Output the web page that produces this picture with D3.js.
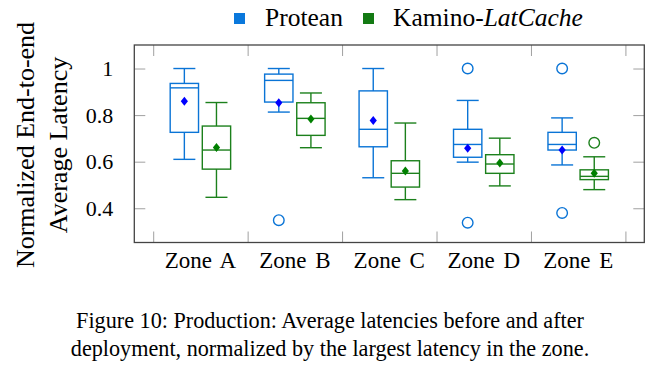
<!DOCTYPE html>
<html>
<head>
<meta charset="utf-8">
<script src="https://cdn.jsdelivr.net/npm/d3@7"></script>
<style>
  body { margin: 0; background: #fff; }
  svg { display: block; font-family: "Liberation Serif", "Times New Roman", serif; }
</style>
</head>
<body>
<svg id="chart" width="660" height="372"></svg>
<script>
const zones = ["Zone A", "Zone B", "Zone C", "Zone D", "Zone E"];
const seriesNames = ["Protean", "Kamino-"];
// [lower whisker, q1, median, q3, upper whisker]
const proteanBoxes = [
  [0.61, 0.726, 0.917, 0.936, 1.0],
  [0.813, 0.856, 0.949, 0.976, 1.0],
  [0.531, 0.664, 0.739, 0.904, 1.0],
  [0.598, 0.619, 0.674, 0.739, 0.863],
  [0.586, 0.65, 0.674, 0.726, 0.788]
];
const proteanMeans = [0.86, 0.853, 0.777, 0.658, 0.65];
const proteanOutliers = [[], [0.349], [], [1.0, 0.338], [1.0, 0.38]];
const kaminoBoxes = [
  [0.447, 0.568, 0.65, 0.753, 0.854],
  [0.66, 0.713, 0.786, 0.853, 0.895],
  [0.437, 0.491, 0.55, 0.604, 0.766],
  [0.496, 0.55, 0.59, 0.63, 0.701],
  [0.48, 0.523, 0.537, 0.565, 0.621]
];
const kaminoMeans = [0.661, 0.783, 0.56, 0.594, 0.55];
const kaminoOutliers = [[], [], [], [], [0.681]];
const yTicks = [0.4, 0.6, 0.8, 1];
const xTicks = [0.5, 1.5, 2.5, 3.5, 4.5, 5.5];

const svg = d3.select("#chart");
const plotL = 134.3, plotR = 644.3, plotT = 45, plotB = 242.5;

const x = d3.scaleLinear().domain([0.3, 5.7]).range([plotL, plotR]);
const y = d3.scaleLinear().domain([0.253, 1.101]).range([plotB, plotT]);

const blue = "#0a74d6", green = "#1c801c";
const series = [
  { boxes: proteanBoxes, means: proteanMeans, outliers: proteanOutliers, color: blue, mean: "#0000ff", off: -0.17 },
  { boxes: kaminoBoxes, means: kaminoMeans, outliers: kaminoOutliers, color: green, mean: "#008000", off: 0.17 }
];

// ticks (inward, on all four sides)
const tickLen = 11;
const tickColor = "#a0a0a0";
svg.append("g").attr("transform", `translate(0,${plotB})`)
  .call(d3.axisBottom(x).tickValues(xTicks).tickSizeInner(-tickLen).tickSizeOuter(0).tickFormat(""))
  .call(g => g.select(".domain").remove())
  .call(g => g.selectAll("line").attr("stroke", tickColor));
svg.append("g").attr("transform", `translate(0,${plotT})`)
  .call(d3.axisTop(x).tickValues(xTicks).tickSizeInner(-tickLen).tickSizeOuter(0).tickFormat(""))
  .call(g => g.select(".domain").remove())
  .call(g => g.selectAll("line").attr("stroke", tickColor));
svg.append("g").attr("transform", `translate(${plotL},0)`)
  .call(d3.axisLeft(y).tickValues(yTicks).tickSizeInner(-tickLen).tickSizeOuter(0).tickPadding(10 + tickLen).tickFormat(d3.format("~g")))
  .call(g => g.select(".domain").remove())
  .call(g => g.selectAll("line").attr("stroke", tickColor))
  .call(g => g.selectAll("text").attr("font-family", "Liberation Serif").attr("font-size", 22).attr("fill", "#000"));
svg.append("g").attr("transform", `translate(${plotR},0)`)
  .call(d3.axisRight(y).tickValues(yTicks).tickSizeInner(-tickLen).tickSizeOuter(0).tickFormat(""))
  .call(g => g.select(".domain").remove())
  .call(g => g.selectAll("line").attr("stroke", tickColor));

// category labels
svg.append("g").selectAll("text").data(zones).join("text")
  .attr("x", (d, i) => x(i + 1))
  .attr("y", 268)
  .attr("text-anchor", "middle")
  .attr("font-size", 23)
  .attr("word-spacing", 3)
  .text(d => d);

// boxes
const boxW = x(0.3) - x(0);
const capW = x(0.233) - x(0);
series.forEach(s => {
  const g = svg.append("g").attr("fill", "none").attr("stroke", s.color).attr("stroke-width", 1.4);
  s.boxes.forEach((b, i) => {
    const cx = x(i + 1 + s.off);
    g.append("line").attr("x1", cx).attr("x2", cx).attr("y1", y(b[0])).attr("y2", y(b[1]));
    g.append("line").attr("x1", cx).attr("x2", cx).attr("y1", y(b[3])).attr("y2", y(b[4]));
    g.append("line").attr("x1", cx - capW / 2).attr("x2", cx + capW / 2).attr("y1", y(b[0])).attr("y2", y(b[0]));
    g.append("line").attr("x1", cx - capW / 2).attr("x2", cx + capW / 2).attr("y1", y(b[4])).attr("y2", y(b[4]));
    g.append("rect").attr("x", cx - boxW / 2).attr("width", boxW)
      .attr("y", y(b[3])).attr("height", y(b[1]) - y(b[3]));
    g.append("line").attr("x1", cx - boxW / 2).attr("x2", cx + boxW / 2).attr("y1", y(b[2])).attr("y2", y(b[2]));
    s.outliers[i].forEach(o => {
      g.append("circle").attr("cx", cx).attr("cy", y(o)).attr("r", 5.3);
    });
  });
  svg.append("g").selectAll("path").data(s.means).join("path")
    .attr("transform", (d, i) => `translate(${x(i + 1 + s.off)},${y(d)})`)
    .attr("d", "M0,-4.5L3.6,0L0,4.5L-3.6,0Z")
    .attr("fill", s.mean);
});

// frame
svg.append("rect").attr("x", plotL).attr("y", plotT).attr("width", plotR - plotL).attr("height", plotB - plotT)
  .attr("fill", "none").attr("stroke", "#444").attr("stroke-width", 1.3);

// legend
const legend = svg.append("g").attr("font-size", 25.5);
legend.append("rect").attr("x", 234).attr("y", 13).attr("width", 11).attr("height", 11).attr("fill", "#0a78dc");
legend.append("text").attr("x", 265).attr("y", 26).text(seriesNames[0]);
legend.append("rect").attr("x", 363).attr("y", 13).attr("width", 11).attr("height", 11).attr("fill", "#137a13");
const kt = legend.append("text").attr("x", 393).attr("y", 26).text(seriesNames[1]);
kt.append("tspan").attr("font-style", "italic").text("LatCache");

// y-axis title
const yt = svg.append("g").attr("transform", "rotate(-90)").attr("text-anchor", "middle").attr("font-size", 26);
yt.append("text").attr("x", -145).attr("y", 34).text("Normalized End-to-end");
yt.append("text").attr("x", -145).attr("y", 67).text("Average Latency");

// caption
const cap = svg.append("g").attr("text-anchor", "middle").attr("font-size", 22.2);
cap.append("text").attr("x", 330).attr("y", 328).text("Figure 10: Production: Average latencies before and after");
cap.append("text").attr("x", 330).attr("y", 356).text("deployment, normalized by the largest latency in the zone.");
</script>
</body>
</html>
